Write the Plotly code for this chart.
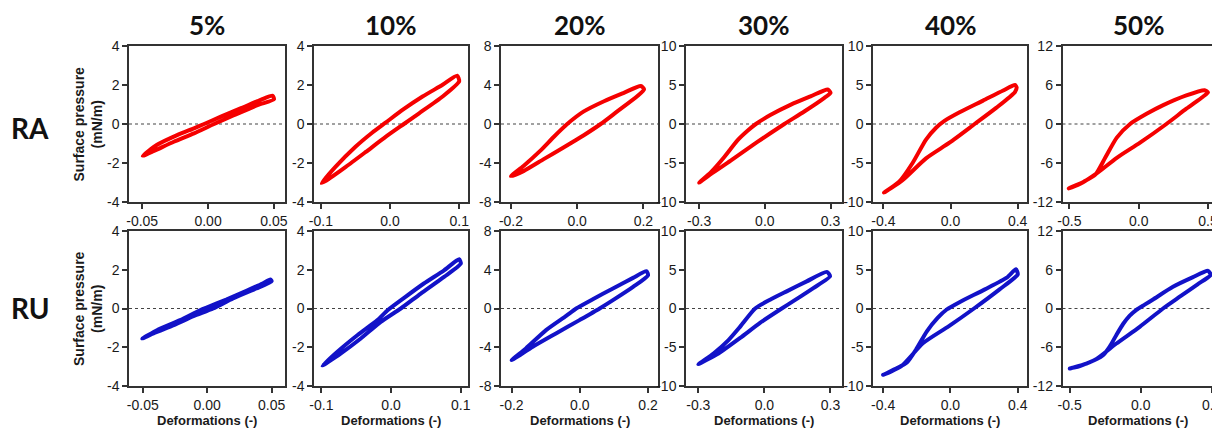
import plotly.graph_objects as go

# ---------------- data ----------------
strain_labels = ["5%", "10%", "20%", "30%", "40%", "50%"]
row_labels = ["RA", "RU"]

x_tick_vals = [[-0.05, 0.0, 0.05], [-0.1, 0.0, 0.1], [-0.2, 0.0, 0.2],
               [-0.3, 0.0, 0.3], [-0.4, 0.0, 0.4], [-0.5, 0.0, 0.5]]
x_tick_text = [["-0.05", "0.00", "0.05"], ["-0.1", "0.0", "0.1"], ["-0.2", "0.0", "0.2"],
               ["-0.3", "0.0", "0.3"], ["-0.4", "0.0", "0.4"], ["-0.5", "0.0", "0.5"]]
y_tick_vals = [[-4, -2, 0, 2, 4], [-4, -2, 0, 2, 4], [-8, -4, 0, 4, 8],
               [-10, -5, 0, 5, 10], [-10, -5, 0, 5, 10], [-12, -6, 0, 6, 12]]

# RA loops (deformation, surface pressure)
ra05_x = [-0.0496, -0.039, -0.0235, -0.0107, -0.003, 0.0097, 0.025, 0.040, 0.049, 0.050,
          0.038, 0.020, 0.0046, -0.0107, -0.026, -0.041, -0.0496]
ra05_y = [-1.63, -1.08, -0.57, -0.22, 0.0, 0.38, 0.81, 1.24, 1.45, 1.27,
          0.98, 0.46, 0.0, -0.48, -0.91, -1.38, -1.63]
ra10_x = [-0.099, -0.079, -0.05, -0.026, -0.006, 0.018, 0.047, 0.076, 0.097, 0.1,
          0.076, 0.042, 0.02, -0.006, -0.035, -0.064, -0.088, -0.099]
ra10_y = [-3.03, -2.2, -1.17, -0.45, 0.08, 0.72, 1.41, 2.01, 2.48, 2.19,
          1.41, 0.55, 0.0, -0.65, -1.43, -2.2, -2.8, -3.03]
ra20_x = [-0.2, -0.162, -0.111, -0.071, -0.03, 0.02, 0.081, 0.141, 0.192,
          0.202, 0.182, 0.121, 0.071, 0.02, -0.04, -0.101, -0.162, -0.2]
ra20_y = [-5.35, -4.3, -2.73, -1.33, 0.0, 1.29, 2.34, 3.2, 3.9,
          3.57, 2.87, 1.29, 0.0, -1.15, -2.38, -3.6, -4.83, -5.35]
ra30_x = [-0.3, -0.247, -0.186, -0.125, -0.079, -0.041, 0.027, 0.119, 0.211, 0.287,
          0.3, 0.272, 0.18, 0.089, -0.034, -0.156, -0.247, -0.3]
ra30_y = [-7.52, -6.2, -4.26, -2.1, -0.87, 0.0, 1.17, 2.48, 3.57, 4.43,
          4.0, 3.35, 1.6, 0.0, -2.3, -4.7, -6.43, -7.52]
ra40_x = [-0.396, -0.306, -0.226, -0.146, -0.086, -0.036, 0.054, 0.194, 0.314, 0.384,
          0.394, 0.384, 0.274, 0.144, -0.006, -0.146, -0.286, -0.396]
ra40_y = [-8.8, -7.4, -5.0, -2.0, -0.48, 0.4, 1.5, 3.0, 4.3, 5.0,
          4.7, 4.1, 2.1, 0.0, -2.4, -4.4, -7.2, -8.8]
ra50_x = [-0.505, -0.397, -0.313, -0.242, -0.158, -0.062, 0.057, 0.177, 0.344, 0.476,
          0.5, 0.464, 0.344, 0.2, 0.01, -0.158, -0.301, -0.421, -0.505]
ra50_y = [-9.9, -8.87, -7.8, -5.2, -2.1, 0.0, 1.56, 2.9, 4.4, 5.2,
          4.85, 4.2, 2.35, 0.0, -2.87, -5.2, -7.56, -9.2, -9.9]

# RU loops
ru05_x = [-0.0504, -0.039, -0.021, -0.0056, -0.0005, 0.0148, 0.030, 0.043, 0.049, 0.050,
          0.038, 0.020, 0.0046, -0.0107, -0.026, -0.041, -0.0504]
ru05_y = [-1.55, -1.12, -0.6, -0.09, 0.05, 0.46, 0.9, 1.29, 1.5, 1.41,
          1.03, 0.52, 0.0, -0.4, -0.86, -1.26, -1.55]
ru10_x = [-0.0986, -0.077, -0.048, -0.0196, -0.005, 0.0187, 0.047, 0.076, 0.0976, 0.1,
          0.076, 0.0426, 0.0139, -0.0148, -0.0435, -0.072, -0.091, -0.0986]
ru10_y = [-2.95, -2.23, -1.37, -0.6, -0.09, 0.55, 1.29, 1.97, 2.54, 2.32,
          1.63, 0.77, 0.0, -0.69, -1.55, -2.32, -2.78, -2.95]
ru20_x = [-0.2, -0.158, -0.099, -0.04, -0.0108, 0.038, 0.097, 0.156, 0.195, 0.2,
          0.156, 0.097, 0.058, -0.001, -0.07, -0.138, -0.2]
ru20_y = [-5.33, -4.12, -2.23, -0.76, 0.0, 0.96, 2.06, 3.16, 3.85, 3.44,
          2.23, 0.86, 0.0, -1.2, -2.58, -3.95, -5.33]
ru30_x = [-0.3, -0.231, -0.163, -0.11, -0.042, 0.0257, 0.101, 0.192, 0.283, 0.298,
          0.222, 0.131, 0.0786, -0.02, -0.11, -0.209, -0.3]
ru30_y = [-7.19, -5.8, -4.07, -2.34, 0.0, 1.13, 2.21, 3.5, 4.72, 4.16,
          2.64, 0.95, 0.0, -1.85, -3.8, -5.8, -7.19]
ru40_x = [-0.4, -0.314, -0.259, -0.205, -0.14, -0.076, -0.022, 0.054, 0.205, 0.335, 0.389,
          0.4, 0.292, 0.14, -0.011, -0.162, -0.292, -0.4]
ru40_y = [-8.57, -7.65, -6.97, -5.32, -2.94, -1.21, -0.13, 0.82, 2.47, 3.98, 5.06,
          4.4, 2.47, 0.0, -2.3, -4.46, -7.45, -8.57]
ru50_x = [-0.499, -0.382, -0.265, -0.218, -0.171, -0.124, -0.077, -0.03, 0.028, 0.087,
          0.227, 0.368, 0.473,
          0.492, 0.40, 0.28, 0.157, -0.007, -0.171, -0.311, -0.428, -0.499]
ru50_y = [-9.29, -8.52, -7.23, -5.9, -4.1, -2.4, -1.1, -0.2, 0.6, 1.4,
          3.35, 4.85, 5.83,
          5.2, 3.75, 1.9, 0.0, -2.84, -5.42, -7.8, -8.9, -9.29]

loops = [
    [(ra05_x, ra05_y), (ra10_x, ra10_y), (ra20_x, ra20_y),
     (ra30_x, ra30_y), (ra40_x, ra40_y), (ra50_x, ra50_y)],
    [(ru05_x, ru05_y), (ru10_x, ru10_y), (ru20_x, ru20_y),
     (ru30_x, ru30_y), (ru40_x, ru40_y), (ru50_x, ru50_y)],
]

# ---------------- layout ----------------
# The page body adds an 8 px offset; pixel positions below are measured on screen.
OFF = 8
W, H = 1220 - OFF, 429 - OFF
col_px = [(129, 284.5), (314, 467.5), (501, 658), (686, 841.5), (873, 1027), (1062.5, 1213.5)]
row_px = [(46, 202), (231, 386)]
x_ranges = [
    [[-0.06, 0.058], [-0.11, 0.112], [-0.23, 0.244], [-0.36, 0.35], [-0.462, 0.456], [-0.55, 0.54]],
    [[-0.0607, 0.06], [-0.1106, 0.1096], [-0.231, 0.229], [-0.356, 0.35], [-0.46, 0.455], [-0.55, 0.512]],
]
colors = ["#f50000", "#1212c8"]

TICK_FONT = dict(family="Liberation Sans, Arial, sans-serif", size=14, color="#1a1a1a")
AX_COLOR = "#333333"


def fx(p):
    return (p - OFF) / W


def fy(p):
    return 1 - (p - OFF) / H


fig = go.Figure()
shapes = []
annotations = []

for r in range(2):
    for c in range(6):
        idx = r * 6 + c + 1
        xa = "x" if idx == 1 else f"x{idx}"
        ya = "y" if idx == 1 else f"y{idx}"
        lx, ly = loops[r][c]
        fig.add_trace(go.Scatter(
            x=lx, y=ly, mode="lines",
            line=dict(color=colors[r], width=4, shape="spline", smoothing=0.6),
            xaxis=xa, yaxis=ya, showlegend=False, hoverinfo="skip"))
        x0, x1 = col_px[c]
        y0, y1 = row_px[r]
        yv = y_tick_vals[c]
        fig.layout[f"xaxis{'' if idx == 1 else idx}"] = dict(
            domain=[fx(x0), min(fx(x1), 1.0)], anchor=ya, range=x_ranges[r][c], automargin=False,
            tickmode="array", tickvals=x_tick_vals[c], ticktext=x_tick_text[c],
            ticklabeloverflow="allow",
            showline=True, mirror=True, linecolor=AX_COLOR, linewidth=1.5,
            ticks="outside", ticklen=5, tickwidth=1.5, tickcolor=AX_COLOR,
            showgrid=False, zeroline=False, tickfont=TICK_FONT, fixedrange=True)
        fig.layout[f"yaxis{'' if idx == 1 else idx}"] = dict(
            domain=[fy(y1), fy(y0)], anchor=xa, range=[yv[0], yv[-1]], automargin=False,
            tickmode="array", tickvals=yv, ticktext=[str(v) for v in yv],
            ticklabeloverflow="allow",
            showline=True, mirror=True, linecolor=AX_COLOR, linewidth=1.5,
            ticks="outside", ticklen=5, tickwidth=1.5, tickcolor=AX_COLOR,
            showgrid=False, zeroline=False, tickfont=TICK_FONT, fixedrange=True)
        shapes.append(dict(type="line", xref=f"{xa} domain", yref=ya, x0=0, x1=1, y0=0, y1=0,
                           line=dict(color="#444444", width=1.2, dash="dot"), layer="below"))
        if r == 1:
            annotations.append(dict(
                text="<b>Deformations (-)</b>", xref="paper", yref="paper",
                x=fx((x0 + x1) / 2), y=fy(420), showarrow=False,
                xanchor="center", yanchor="middle",
                font=dict(family="Liberation Sans, Arial, sans-serif", size=13, color="#1a1a1a")))

for c in range(6):
    x0, x1 = col_px[c]
    annotations.append(dict(
        text=f"<b>{strain_labels[c]}</b>", xref="paper", yref="paper",
        x=fx((x0 + x1) / 2), y=fy(25), showarrow=False,
        xanchor="center", yanchor="middle",
        font=dict(family="Lato, sans-serif", size=26, color="#111111")))

for r in range(2):
    y0, y1 = row_px[r]
    yc = (y0 + y1) / 2
    annotations.append(dict(
        text=f"<b>{row_labels[r]}</b>", xref="paper", yref="paper",
        x=fx(30), y=fy(yc + (4 if r == 0 else -1)), showarrow=False,
        xanchor="center", yanchor="middle",
        font=dict(family="Lato, sans-serif", size=28, color="#111111")))
    annotations.append(dict(
        text="<b>Surface pressure</b><br><b>(mN/m)</b>", xref="paper", yref="paper",
        x=fx(87.5), y=fy(yc), showarrow=False, textangle=-90,
        xanchor="center", yanchor="middle",
        font=dict(family="Liberation Sans, Arial, sans-serif", size=14, color="#1a1a1a")))

fig.update_layout(
    width=W, height=H, margin=dict(l=0, r=0, t=0, b=0),
    paper_bgcolor="white", plot_bgcolor="white",
    shapes=shapes, annotations=annotations)

fig.write_html("out.html")
